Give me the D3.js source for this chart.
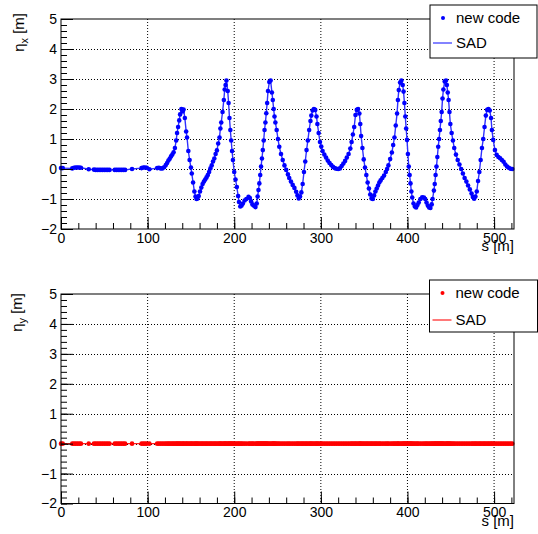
<!DOCTYPE html>
<html><head><meta charset="utf-8">
<script src="https://cdn.jsdelivr.net/npm/d3@7"></script>
<style>
body{margin:0;background:#fff;}
text{font-family:"Liberation Sans",Arial,Helvetica,sans-serif;fill:#000;}
</style>
</head><body>
<svg id="c" width="538" height="534"></svg>
<script>
// ---- data ----
const sPositions = [
0,2,13,15,17,19,21,23,32,38,
40,42,44,46,48,50,52,54,56,62,
64,66,68,70,72,74,82,93,95,97,
99,102,111,113,115,117,119,121,122.5,124,
125.5,127,128.5,130,131.5,133,134,135.2,136.5,137.5,
139,140.5,141.5,143,144.5,145.5,147,148.5,150,151,
152.5,154,155.3,156.5,157.5,159,160.5,162,163.5,165,
166.5,168,169.5,171,172.5,174,175.5,177,178.5,180,
181.5,183,184,185,186.5,188,189,190,191,192.5,
193.5,194.5,195.5,196.5,197.5,198.5,200,201.5,203,204.5,
205.5,207,208.5,210,212,214,216.5,218,219.5,221,
222.5,224.5,226,227,228,229,230,231,232,233,
234,235,236,237,238,239,240.5,242,243.5,244.5,
245.5,246.5,247.5,249,250.5,252,254,256,258,260,
262,263.5,265.5,267.5,269.5,271.5,273,274.5,276,277.5,
279,280.5,282,283.5,285,286.5,288,289,290.5,292,
293.5,295,296,297.5,299,300.5,302,304,306,308,
310,312,314,316,318,320,322,324,326,328,
330,332,334,335.5,337,338.5,340,341.5,343,344.5,
345.5,346.5,348,349.5,351,352.5,354,355.5,357,358.5,
360,361.5,363,364.5,366,367.5,369,371,373,375,
376.5,378,380,382,383.5,385,386.5,388,389,390,
391.5,393,394.5,395.5,396.5,397.5,398.5,399.5,400.5,401.5,
402.5,403.5,404.5,405.5,407,408.5,410,411.5,413,415,
417,419,420.5,422,423.5,425,426.5,428,429,430.5,
431.5,432.5,433.5,434.5,435.5,436.5,437.5,438.5,439.5,440.5,
441.5,443,444.5,445.5,446.5,447.5,448.5,449.5,451,452.5,
454,456,458,460,462,464,466,468,470,472,
474,475.5,477,478.5,480,481.5,483,484.5,486,487.5,
489,490.5,492,493.5,495,496.5,497.5,499,501,503,
505,507,509,511,513,515,517,519,521
];
const etaX = [
0.03,0.03,0.02,0.04,0.05,0.05,0.05,0.04,-0.01,-0.02,
-0.03,-0.03,-0.03,-0.03,-0.03,-0.03,-0.03,-0.03,-0.03,-0.03,
-0.03,-0.03,-0.03,-0.03,-0.03,-0.03,0.0,0.03,0.05,0.05,
0.04,-0.01,0.03,0.04,0.02,0.02,0.06,0.13,0.2,0.28,
0.34,0.42,0.48,0.56,0.7,0.95,1.2,1.4,1.62,1.82,
2.0,1.92,1.98,1.7,1.25,1.05,0.6,0.3,0.05,-0.15,
-0.45,-0.75,-0.92,-1.0,-0.98,-0.9,-0.75,-0.62,-0.5,-0.42,
-0.35,-0.28,-0.2,-0.1,0.02,0.12,0.25,0.35,0.5,0.62,
0.85,1.05,1.35,1.55,1.9,2.3,2.65,2.8,2.95,2.6,
2.2,1.7,1.3,0.95,0.6,0.3,-0.1,-0.35,-0.6,-0.9,
-1.1,-1.25,-1.22,-1.15,-1.05,-1.0,-0.93,-0.97,-1.08,-1.18,
-1.22,-1.27,-1.15,-0.92,-0.7,-0.48,-0.2,0.08,0.35,0.63,
0.95,1.3,1.55,1.86,2.2,2.6,2.9,2.95,2.55,2.3,
2.0,1.75,1.55,1.3,1.0,0.74,0.5,0.3,0.12,-0.03,
-0.18,-0.3,-0.42,-0.53,-0.63,-0.76,-0.88,-0.98,-0.92,-0.78,
-0.5,-0.1,0.25,0.63,0.95,1.3,1.6,1.78,1.95,2.0,
1.97,1.75,1.5,1.2,0.9,0.75,0.6,0.48,0.38,0.28,
0.2,0.13,0.07,0.03,0.01,0.0,0.02,0.1,0.18,0.27,
0.38,0.5,0.68,0.9,1.15,1.4,1.8,1.97,2.0,1.85,
1.5,1.1,0.7,0.32,0.05,-0.2,-0.45,-0.65,-0.85,-0.98,
-1.0,-0.88,-0.75,-0.65,-0.55,-0.45,-0.38,-0.3,-0.22,-0.1,
0.0,0.12,0.33,0.55,0.8,1.05,1.45,1.85,2.3,2.63,
2.88,2.95,2.8,2.58,2.2,1.75,1.35,0.97,0.5,0.08,
-0.2,-0.48,-0.75,-0.95,-1.15,-1.25,-1.28,-1.2,-1.12,-1.0,
-0.94,-0.95,-1.0,-1.12,-1.22,-1.28,-1.3,-1.18,-1.0,-0.72,
-0.5,-0.2,0.08,0.4,0.74,1.0,1.3,1.6,1.9,2.35,
2.65,2.92,2.95,2.8,2.55,2.3,1.9,1.5,1.2,0.95,
0.7,0.48,0.3,0.15,0.0,-0.15,-0.3,-0.42,-0.55,-0.68,
-0.82,-0.93,-0.99,-0.92,-0.75,-0.4,-0.1,0.3,0.7,1.0,
1.4,1.78,1.97,2.0,1.95,1.7,1.3,0.97,0.63,0.47,
0.4,0.36,0.3,0.24,0.15,0.08,0.04,0.01,0.0
];
const etaY = [
0,0,0,0,0,0,0,0,0,0,
0,0,0,0,0,0,0,0,0,0,
0,0,0,0,0,0,0,0,0,0,
0,0,0,0,0,0,0,0,0,0,
0,0,0,0,0,0,0,0,0,0,
0,0,0,0,0,0,0,0,0,0,
0,0,0,0,0,0,0,0,0,0,
0,0,0,0,0,0,0,0,0,0,
0,0,0,0,0,0,0,0,0,0,
0,0,0,0,0,0,0,0,0,0,
0,0,0,0,0,0,0,0,0,0,
0,0,0,0,0,0,0,0,0,0,
0,0,0,0,0,0,0,0,0,0,
0,0,0,0,0,0,0,0,0,0,
0,0,0,0,0,0,0,0,0,0,
0,0,0,0,0,0,0,0,0,0,
0,0,0,0,0,0,0,0,0,0,
0,0,0,0,0,0,0,0,0,0,
0,0,0,0,0,0,0,0,0,0,
0,0,0,0,0,0,0,0,0,0,
0,0,0,0,0,0,0,0,0,0,
0,0,0,0,0,0,0,0,0,0,
0,0,0,0,0,0,0,0,0,0,
0,0,0,0,0,0,0,0,0,0,
0,0,0,0,0,0,0,0,0,0,
0,0,0,0,0,0,0,0,0,0,
0,0,0,0,0,0,0,0,0,0,
0,0,0,0,0,0,0,0,0,0,
0,0,0,0,0,0,0,0,0,0,
0,0,0,0,0,0,0,0,0,0,
0,0,0,0,0,0,0,0,0
];
const xTicks = [0,100,200,300,400,500];
const xTickLabels = ["0","100","200","300","400","500"];
const yTicks = [-2,-1,0,1,2,3,4,5];
const yTickLabels = ["\u22122","\u22121","0","1","2","3","4","5"];
const legendLabels = ["new code","SAD"];
const xTitle = "s [m]";

// ---- layout ----
const svg = d3.select("#c");
svg.append("rect").attr("width",538).attr("height",534).attr("fill","#fff");

const panels = [
  {values: etaX, color:"#0000ff", lineColor:"#3030ff", top:19, bottom:229, sub:"x",
   titleX:24, titleY:13, xTitleY:251,
   leg:{x:430,y:5,w:107,h:53, my:18, ty:23, ly:43, t2y:48}},
  {values: etaY, color:"#ff0000", lineColor:"#ff2020", top:294, bottom:503.5, sub:"y",
   titleX:22, titleY:293, xTitleY:526,
   leg:{x:429.5,y:280,w:108,h:52, my:293, ty:298, ly:320, t2y:325}}
];

const x = d3.scaleLinear().domain([0,523]).range([61,514]);
const minorX = d3.range(0,521,20);
const minorY = d3.range(-2,5.001,0.2);

panels.forEach(p=>{
  const y = d3.scaleLinear().domain([-2,5]).range([p.bottom,p.top]);
  const g = svg.append("g");
  const data = sPositions.map((s,i)=>({s:s, v:p.values[i]})).filter(d=>d.v!==undefined);

  // grid
  g.selectAll(".gx").data(xTicks.filter(t=>t>0)).enter().append("line")
    .attr("x1",d=>x(d)).attr("x2",d=>x(d)).attr("y1",p.top).attr("y2",p.bottom)
    .attr("stroke","#000").attr("stroke-width",1).attr("stroke-dasharray","1,2");
  g.selectAll(".gy").data(yTicks.filter(t=>t>-2&&t<5)).enter().append("line")
    .attr("x1",x(0)).attr("x2",x(523)).attr("y1",d=>Math.round(y(d))+0.5).attr("y2",d=>Math.round(y(d))+0.5)
    .attr("stroke","#000").attr("stroke-width",1).attr("stroke-dasharray","1,2");

  // data line
  const line = d3.line().x(d=>x(d.s)).y(d=>y(d.v));
  g.append("path").datum(data).attr("d",line).attr("fill","none")
    .attr("stroke",p.lineColor).attr("stroke-width",1.4);
  // markers
  g.selectAll(".m").data(data).enter().append("circle")
    .attr("cx",d=>x(d.s)).attr("cy",d=>y(d.v)).attr("r",2.3).attr("fill",p.color);

  // frame
  g.append("rect").attr("x",61).attr("y",p.top).attr("width",514-61).attr("height",p.bottom-p.top)
    .attr("fill","none").attr("stroke","#000").attr("stroke-width",1);

  // axes
  const ax = g.append("g").attr("transform",`translate(0,${p.bottom})`)
    .call(d3.axisBottom(x).tickValues(xTicks).tickFormat((d,i)=>xTickLabels[i]).tickSize(-12).tickPadding(4));
  ax.select(".domain").remove();
  ax.selectAll("text").attr("font-size",14);
  const axm = g.append("g").attr("transform",`translate(0,${p.bottom})`)
    .call(d3.axisBottom(x).tickValues(minorX).tickFormat("").tickSize(-6));
  axm.select(".domain").remove();

  const ay = g.append("g").attr("transform",`translate(61,0)`)
    .call(d3.axisLeft(y).tickValues(yTicks).tickFormat((d,i)=>yTickLabels[i]).tickSize(-12).tickPadding(4));
  ay.select(".domain").remove();
  ay.selectAll("text").attr("font-size",14);
  const aym = g.append("g").attr("transform",`translate(61,0)`)
    .call(d3.axisLeft(y).tickValues(minorY).tickFormat("").tickSize(-6));
  aym.select(".domain").remove();

  // axis titles
  const yt = g.append("text").attr("transform",`translate(${p.titleX},${p.titleY}) rotate(-90)`)
    .attr("text-anchor","end").attr("font-size",15);
  yt.append("tspan").text("\u03b7");
  yt.append("tspan").attr("dy",4).attr("font-size",11).text(p.sub);
  yt.append("tspan").attr("dy",-4).text(" [m]");
  g.append("text").attr("x",514).attr("y",p.xTitleY).attr("text-anchor","end")
    .attr("font-size",15).text(xTitle);

  // legend
  const L = p.leg;
  g.append("rect").attr("x",L.x).attr("y",L.y).attr("width",L.w).attr("height",L.h)
    .attr("fill","#fff").attr("stroke","#000").attr("stroke-width",1);
  g.append("circle").attr("cx",L.x+13).attr("cy",L.my).attr("r",2).attr("fill",p.color);
  g.append("text").attr("x",L.x+26).attr("y",L.ty).attr("font-size",15).text(legendLabels[0]);
  g.append("line").attr("x1",L.x+3).attr("x2",L.x+22).attr("y1",L.ly).attr("y2",L.ly)
    .attr("stroke",p.lineColor).attr("stroke-width",1.2);
  g.append("text").attr("x",L.x+26).attr("y",L.t2y).attr("font-size",15).text(legendLabels[1]);
});
</script>
</body></html>
